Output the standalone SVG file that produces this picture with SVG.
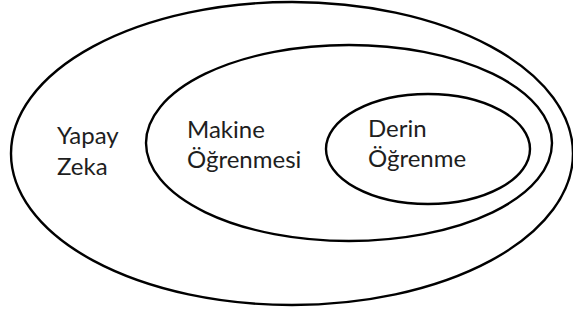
<svg xmlns="http://www.w3.org/2000/svg" width="573" height="320" viewBox="0 0 573 320">
<style>
.set{fill:none;stroke:#000;stroke-width:2.4}
.lbl{font-family:Lato,"Open Sans","Liberation Sans",sans-serif;font-size:24px;fill:#1e1e1e}
</style>
<rect width="573" height="320" fill="#fff"/>
<g id="yapay-zeka">
<ellipse class="set" cx="292" cy="153.5" rx="281" ry="151.5"/>
<text class="lbl" x="57" y="144">Yapay</text>
<text class="lbl" x="57" y="175">Zeka</text>
</g>
<g id="makine-ogrenmesi">
<ellipse class="set" cx="349" cy="143" rx="203" ry="98"/>
<text class="lbl" x="187" y="138">Makine</text>
<text class="lbl" x="187" y="168">Öğrenmesi</text>
</g>
<g id="derin-ogrenme">
<ellipse class="set" cx="428" cy="149" rx="102" ry="55"/>
<text class="lbl" x="368" y="137">Derin</text>
<text class="lbl" x="368" y="167">Öğrenme</text>
</g>
<g id="connectors"></g>
</svg>
